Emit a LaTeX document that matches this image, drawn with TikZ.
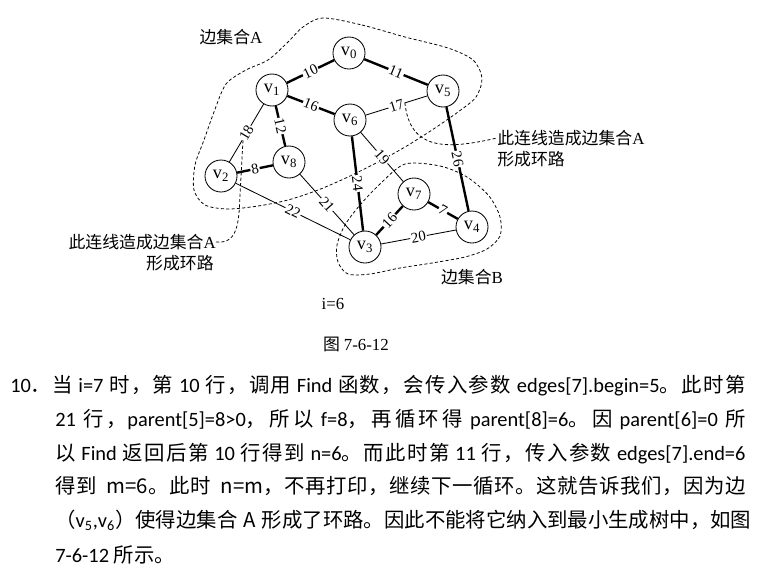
\documentclass[tikz,border=0pt]{standalone}
\usepackage{fontspec}
\setmainfont{Noto Sans CJK SC}
\newfontfamily\timesf{Liberation Serif}
\newfontfamily\calib{Carlito}
\usetikzlibrary{positioning}
% a little stretch between Chinese characters, for the justified lines
\newXeTeXintercharclass\hancls
\newcount\hanc
\hanc="4E00
\loop
  \XeTeXcharclass\hanc=\hancls
  \ifnum\hanc<"9FFF \advance\hanc by 1
\repeat
\XeTeXcharclass"FF0C=\hancls
\XeTeXcharclass"3002=\hancls
\XeTeXcharclass"FF08=\hancls
\XeTeXcharclass"FF09=\hancls
\XeTeXinterchartokenstate=1
\XeTeXinterchartoks\hancls\hancls={\hskip 0pt plus 2pt\relax}
\newcommand\en[1]{{\calib #1}}
\newcommand\vx[1]{{\timesf v\textsubscript{#1}}}

\begin{document}
\begin{tikzpicture}[x=0.025cm, y=-0.025cm,
  vtx/.style={draw,circle,fill=white,line width=0.6pt,minimum size=0.8cm,inner sep=0pt,font=\fontsize{13}{15}\selectfont},
  tree/.style={line width=1.7pt},
  edge/.style={line width=0.6pt},
  wt/.style={fill=white,inner sep=0.7pt,sloped,font=\timesf\fontsize{10.5}{10.5}\selectfont},
  region/.style={line width=0.55pt,dash pattern=on 2.2pt off 1.6pt},
  note/.style={inner sep=0pt,font=\fontsize{12}{14}\selectfont},
  para/.style={anchor=base west,inner sep=0pt,font=\fontsize{14.5}{18}\selectfont}]
\useasboundingbox (0,0) rectangle (771,581);

% edge sets A and B
\draw[region] plot[smooth cycle] coordinates {(323,18) (362,25) (405,37) (448,48) (473,60) (482,78) (476,97) (458,112) (432,130) (405,147) (378,162) (348,177) (318,190) (288,200) (258,206) (228,209) (205,205) (194,190) (195,165) (204,140) (214,112) (226,84) (246,70) (268,60) (287,43) (303,27)};
\draw[region] plot[smooth cycle] coordinates {(405,164) (440,166) (467,177) (489,196) (500,217) (500,236) (487,249) (465,257) (432,263) (400,268) (370,274) (348,274) (338,262) (337,245) (345,225) (360,205) (380,184)};

% vertices
\node[vtx] (v0) at (349,53) {\vx{0}};
\node[vtx] (v1) at (272,90) {\vx{1}};
\node[vtx] (v5) at (443,91) {\vx{5}};
\node[vtx] (v6) at (350,120) {\vx{6}};
\node[vtx] (v8) at (289,162) {\vx{8}};
\node[vtx] (v2) at (221,176) {\vx{2}};
\node[vtx] (v7) at (414,194) {\vx{7}};
\node[vtx] (v4) at (472,227) {\vx{4}};
\node[vtx] (v3) at (365,247) {\vx{3}};

% edges with weights
\draw[tree] (v0) -- node[wt] {10} (v1);
\draw[tree] (v0) -- node[wt] {11} (v5);
\draw[tree] (v1) -- node[wt] {16} (v6);
\draw[tree] (v1) -- node[wt] {12} (v8);
\draw[edge] (v1) -- node[wt] {18} coordinate[pos=0.6] (c18) (v2);
\draw[tree] (v2) -- node[wt] {8} (v8);
\draw[edge] (v6) -- node[wt] (e17) {17} (v5);
\draw[edge] (v2) -- node[wt] {22} (v3);
\draw[edge] (v8) -- node[wt] {21} (v3);
\draw[tree] (v6) -- node[wt] {24} (v3);
\draw[edge] (v6) -- node[wt] {19} (v7);
\draw[tree] (v5) -- node[wt] {26} (v4);
\draw[tree] (v7) -- node[wt] {16} (v3);
\draw[tree] (v7) -- node[wt] {7} (v4);
\draw[edge] (v3) -- node[wt] {20} (v4);

% labels
\node[note] (setA) at (231,37) {边集合{\timesf A}};
\node[note] (setB) at (472,277) {边集合{\timesf B}};
\node[note,anchor=west] (noteR) at (497,138) {此连线造成边集合{\timesf A}};
\node[note,anchor=west] (noteR2) at (497,159) {形成环路};
\node[note,anchor=east] (noteL) at (216,242) {此连线造成边集合{\timesf A}};
\node[note,anchor=east] (noteL2) at (214,263) {形成环路};
\draw[region] (e17.east) .. controls (410,150) and (445,150) .. (noteR.west);
\draw[region] (noteL.east) .. controls (237,244) and (239,225) .. (240,195) -- (c18);
\node[note,font=\timesf\fontsize{12}{14}\selectfont] (iter) at (333,304) {i=6};
\node[note] (cap) at (356,344) {图 {\timesf 7-6-12}};

% paragraph
\node[para] (num) at (10,392) {\en{10}．};
\node[para] (ln1) at (52,392) {\makebox[17.325cm][s]{当 \en{i=7} 时，第 \en{10} 行，调用 \en{Find} 函数，会传入参数 \en{edges[7].begin=5}。此时第}};
\node[para] (ln2) at (55,426.5) {\makebox[17.25cm][s]{\en{21} 行，\en{parent[5]=8>0}，所以 \en{f=8}，再循环得 \en{parent[8]=6}。因 \en{parent[6]=0} 所}};
\node[para] (ln3) at (55,460) {\makebox[17.25cm][s]{以 \en{Find} 返回后第 \en{10} 行得到 \en{n=6}。而此时第 \en{11} 行，传入参数 \en{edges[7].end=6}}};
\node[para] (ln4) at (55,493.5) {\makebox[17.25cm][s]{得到\ \ m=6。此时\ \ n=m，不再打印，继续下一循环。这就告诉我们，因为边}};
\node[para] (ln5) at (55,527.5) {\makebox[17.25cm][s]{（\en{v\textsubscript{5},v\textsubscript{6}}）使得边集合\ \ A\ \ 形成了环路。因此不能将它纳入到最小生成树中，如图}};
\node[para] (ln6) at (55,562) {\en{7-6-12} 所示。};
\end{tikzpicture}
\end{document}
